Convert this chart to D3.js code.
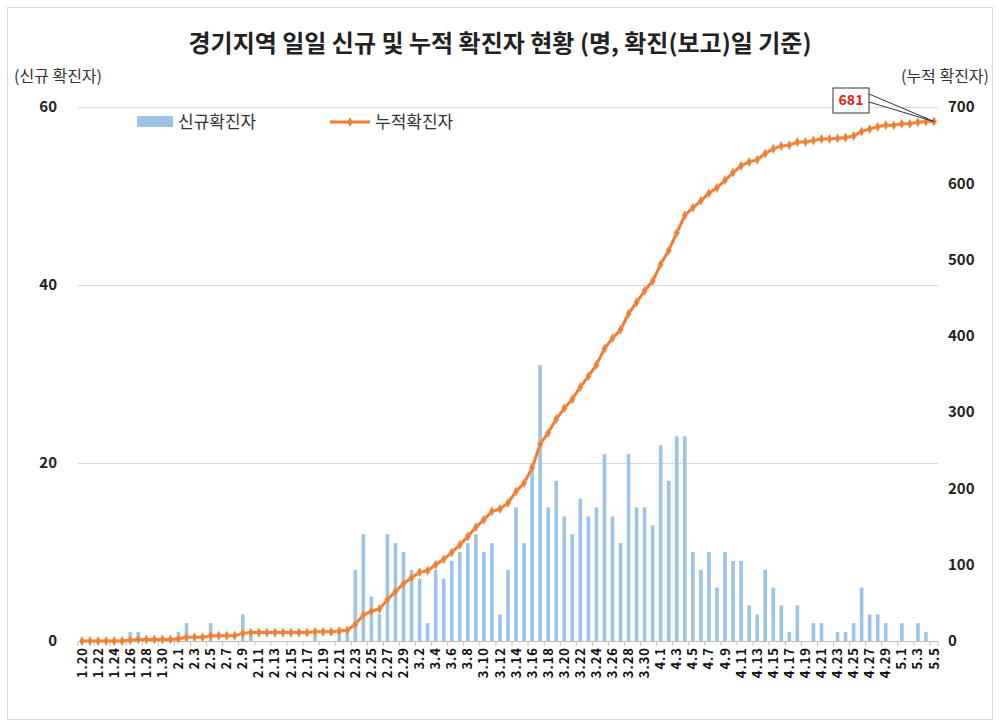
<!DOCTYPE html>
<html>
<head>
<meta charset="utf-8">
<script src="https://cdn.jsdelivr.net/npm/d3@7"></script>
<style>
  body { margin: 0; background: #fff; }
  text { font-family: "Noto Sans CJK KR", "Noto Sans", sans-serif; }
</style>
</head>
<body>
<div id="chart"></div>
<script>
// dates 1.20 ~ 5.5 (2020)
var months = [1, 2, 3, 4, 5];
var monthDays = [[20, 31], [1, 29], [1, 31], [1, 30], [1, 5]];
var dates = [];
months.forEach(function(m, k) {
  for (var d = monthDays[k][0]; d <= monthDays[k][1]; d++) dates.push(m + "." + d);
});

// daily new cases
var daily = [
  // 1.20 - 1.31
  0, 0, 0, 0, 0, 0, 1, 1, 0, 0, 0, 0,
  // 2.1 - 2.29
  1, 2, 0, 0, 2, 0, 0, 0, 3, 1, 0, 0, 0, 0, 0, 0, 0, 1, 0, 0, 1, 1, 8, 12, 5, 3, 12, 11, 10,
  // 3.1 - 3.31
  8, 7, 2, 8, 7, 9, 10, 11, 12, 10, 11, 3, 8, 15, 11, 20, 31, 15, 18, 14, 12, 16, 14, 15, 21, 14, 11, 21, 15, 15, 13,
  // 4.1 - 4.30
  22, 18, 23, 23, 10, 8, 10, 6, 10, 9, 9, 4, 3, 8, 6, 4, 1, 4, 0, 2, 2, 0, 1, 1, 2, 6, 3, 3, 2, 0,
  // 5.1 - 5.5
  2, 0, 2, 1, 0
];

// cumulative cases
var cumulative = [
  0, 0, 0, 0, 0, 0, 1, 2, 2, 2, 2, 2,
  3, 5, 5, 5, 7, 7, 7, 7, 10, 11, 11, 11, 11, 11, 11, 11, 11, 12, 12, 12, 13, 14, 22, 34, 39, 42, 54, 65, 75,
  83, 90, 92, 100, 107, 116, 126, 137, 149, 159, 170, 173, 181, 196, 207, 227, 258, 273, 291, 305, 317, 333, 347, 362, 383, 397, 408, 429, 444, 459, 472,
  494, 512, 535, 558, 568, 577, 587, 594, 604, 614, 623, 628, 631, 639, 645, 649, 650, 654, 654, 656, 658, 658, 659, 660, 662, 668, 671, 674, 676, 676,
  678, 678, 680, 681, 681
];

var leftTicks = [0, 20, 40, 60];
var rightTicks = [0, 100, 200, 300, 400, 500, 600, 700];

var svgWidth = 1000;
var svgHeight = 725;
var margin = { top: 107, right: 62, bottom: 84, left: 78 };
var width = svgWidth - margin.left - margin.right;
var height = svgHeight - margin.top - margin.bottom;

var svg = d3.select("#chart")
  .append("svg")
  .attr("width", svgWidth)
  .attr("height", svgHeight);

// chart border
svg.append("rect")
  .attr("x", 7.5).attr("y", 7.5)
  .attr("width", 985).attr("height", 712)
  .attr("fill", "#fff")
  .attr("stroke", "#d9d9d9");

var plot = svg.append("g")
  .attr("transform", `translate(${margin.left}, ${margin.top})`);

// scales
var x = d3.scaleBand().domain(dates).range([0, width]).paddingInner(0.55).paddingOuter(0.275);
var yLeft = d3.scaleLinear().domain([0, 60]).range([height, 0]);
var yRight = d3.scaleLinear().domain([0, 700]).range([height, 0]);

// gridlines
plot.append("g")
  .call(d3.axisLeft(yLeft).tickValues(leftTicks).tickSize(-width).tickFormat(""))
  .call(g => g.select(".domain").remove())
  .call(g => g.selectAll("line").attr("stroke", "#d9d9d9"));

// left axis
plot.append("g")
  .call(d3.axisLeft(yLeft).tickValues(leftTicks).tickSize(0).tickPadding(21))
  .call(g => g.select(".domain").remove())
  .call(g => g.selectAll("text")
    .attr("font-size", 15).attr("font-weight", "bold").attr("fill", "#222"));

// right axis
plot.append("g")
  .attr("transform", `translate(${width}, 0)`)
  .call(d3.axisRight(yRight).tickValues(rightTicks).tickSize(0).tickPadding(10))
  .call(g => g.select(".domain").remove())
  .call(g => g.selectAll("text")
    .attr("font-size", 15).attr("font-weight", "bold").attr("fill", "#222"));

// bars
plot.selectAll(".bar")
  .data(daily)
  .enter()
  .append("rect")
  .attr("class", "bar")
  .attr("x", (d, i) => x(dates[i]))
  .attr("y", d => yLeft(d))
  .attr("width", x.bandwidth())
  .attr("height", d => height - yLeft(d))
  .attr("fill", "#9dc3e6");

// x axis
var xAxis = plot.append("g")
  .attr("transform", `translate(0, ${height})`)
  .call(d3.axisBottom(x)
    .tickValues(dates.filter((d, i) => i % 2 === 0))
    .tickSize(0)
    .tickPadding(0));
xAxis.select(".domain").attr("stroke", "#bfbfbf");
xAxis.selectAll("text")
  .attr("transform", "rotate(-90)")
  .attr("x", -6)
  .attr("y", 0)
  .attr("dy", "0.35em")
  .attr("text-anchor", "end")
  .attr("font-family", "DejaVu Sans")
  .attr("font-size", 13)
  .attr("font-weight", "bold")
  .attr("letter-spacing", 1)
  .attr("fill", "#111");

// tick marks between every second category
plot.selectAll(".xtick")
  .data(dates.filter((d, i) => i % 2 === 0).concat([dates[dates.length - 1]]))
  .enter()
  .append("line")
  .attr("x1", (d, i, arr) => i === arr.length - 1 ? width : x(d) - x.step() * 0.5 + x.bandwidth() / 2)
  .attr("x2", (d, i, arr) => i === arr.length - 1 ? width : x(d) - x.step() * 0.5 + x.bandwidth() / 2)
  .attr("y1", height)
  .attr("y2", height + 5)
  .attr("stroke", "#bfbfbf");

// cumulative line
var line = d3.line()
  .x((d, i) => x(dates[i]) + x.bandwidth() / 2)
  .y(d => yRight(d));

plot.append("path")
  .datum(cumulative)
  .attr("fill", "none")
  .attr("stroke", "#ed7d31")
  .attr("stroke-width", 3)
  .attr("d", line);

plot.selectAll(".marker")
  .data(cumulative)
  .enter()
  .append("path")
  .attr("class", "marker")
  .attr("transform", (d, i) => `translate(${x(dates[i]) + x.bandwidth() / 2}, ${yRight(d)})`)
  .attr("d", d3.symbol().type(d3.symbolDiamond).size(26))
  .attr("fill", "#ed7d31")
  .attr("stroke", "#f4b183")
  .attr("stroke-width", 0.6);

// callout for last value
var lastX = x(dates[dates.length - 1]) + x.bandwidth() / 2;
var lastY = yRight(cumulative[cumulative.length - 1]);
var box = { x: 755, y: -19, w: 36, h: 25 };
plot.append("path")
  .attr("d", `M${box.x + box.w},${box.y + 6} L${lastX},${lastY} L${box.x + box.w},${box.y + 14}`)
  .attr("fill", "#fff")
  .attr("stroke", "#333")
  .attr("stroke-width", 1);
plot.append("rect")
  .attr("x", box.x).attr("y", box.y)
  .attr("width", box.w).attr("height", box.h)
  .attr("fill", "#fff")
  .attr("stroke", "#333");
plot.append("text")
  .attr("x", box.x + box.w / 2)
  .attr("y", box.y + box.h / 2)
  .attr("dy", "0.35em")
  .attr("text-anchor", "middle")
  .attr("font-size", 14)
  .attr("font-weight", "bold")
  .attr("fill", "#e0201b")
  .text(cumulative[cumulative.length - 1]);

// legend
var legend = svg.append("g");
legend.append("rect")
  .attr("x", 137).attr("y", 116)
  .attr("width", 36).attr("height", 11)
  .attr("fill", "#9dc3e6");
legend.append("text")
  .attr("x", 178).attr("y", 122)
  .attr("dy", "0.35em")
  .attr("font-size", 17)
  .attr("fill", "#333")
  .text("신규확진자");
legend.append("line")
  .attr("x1", 330).attr("x2", 370)
  .attr("y1", 122).attr("y2", 122)
  .attr("stroke", "#ed7d31")
  .attr("stroke-width", 3);
legend.append("path")
  .attr("transform", "translate(350, 122)")
  .attr("d", d3.symbol().type(d3.symbolDiamond).size(26))
  .attr("fill", "#ed7d31");
legend.append("text")
  .attr("x", 375).attr("y", 122)
  .attr("dy", "0.35em")
  .attr("font-size", 17)
  .attr("fill", "#333")
  .text("누적확진자");

// title and axis captions
svg.append("text")
  .attr("x", 500).attr("y", 52)
  .attr("text-anchor", "middle")
  .attr("font-size", 24)
  .attr("font-weight", "bold")
  .attr("fill", "#222")
  .text("경기지역 일일 신규 및 누적 확진자 현황 (명, 확진(보고)일 기준)");

svg.append("text")
  .attr("x", 14).attr("y", 82)
  .attr("font-size", 16)
  .attr("fill", "#333")
  .text("(신규 확진자)");

svg.append("text")
  .attr("x", 989).attr("y", 82)
  .attr("text-anchor", "end")
  .attr("font-size", 16)
  .attr("fill", "#333")
  .text("(누적 확진자)");
</script>
</body>
</html>
